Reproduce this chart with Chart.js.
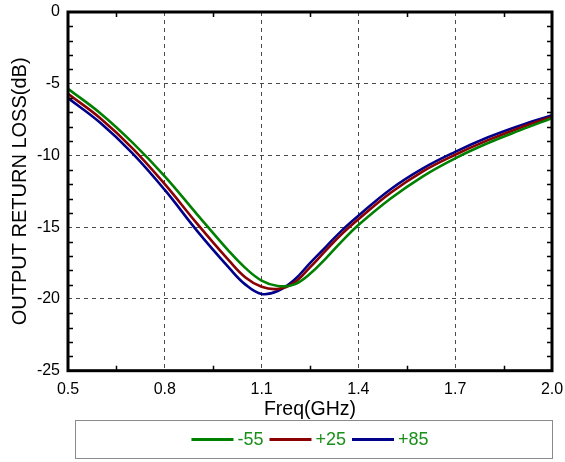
<!DOCTYPE html>
<html>
<head>
<meta charset="utf-8">
<script src="https://cdn.jsdelivr.net/npm/chart.js@4/dist/chart.umd.min.js"></script>
<style>
  html, body { margin: 0; padding: 0; background: #fff; }
  #wrap { width: 565px; height: 462px; position: relative; }
</style>
</head>
<body>
<div id="wrap"><canvas id="c" width="565" height="462"></canvas></div>
<script>
// ---- data ----
const freqGHz = [0.5, 0.6, 0.7, 0.8, 0.9, 1.0, 1.05, 1.1, 1.15, 1.2, 1.25, 1.3, 1.35, 1.4, 1.5, 1.6, 1.7, 1.8, 1.9, 2.0];
const lossM55 = [-5.35, -7.05, -9.1, -11.45, -14.1, -16.7, -17.85, -18.72, -19.1, -19.0, -18.25, -17.15, -15.95, -14.85, -13.0, -11.45, -10.2, -9.15, -8.25, -7.4];
const lossP25 = [-5.7, -7.4, -9.5, -12.0, -14.75, -17.35, -18.5, -19.15, -19.3, -18.88, -17.8, -16.6, -15.45, -14.45, -12.6, -11.1, -9.95, -8.95, -8.08, -7.3];
const lossP85 = [-6.0, -7.72, -9.85, -12.4, -15.25, -17.85, -19.0, -19.65, -19.45, -18.7, -17.5, -16.35, -15.2, -14.2, -12.35, -10.9, -9.75, -8.75, -7.92, -7.2];
const seriesLabels = ['-55', '+25', '+85'];
const seriesColors = ['#008000', '#8b0000', '#00008b'];
const xTickValues = [0.5, 0.8, 1.1, 1.4, 1.7, 2.0];
const yTickValues = [-25, -20, -15, -10, -5, 0];
const xTitle = 'Freq(GHz)';
const yTitle = 'OUTPUT RETURN LOSS(dB)';

const FONT = '"Liberation Sans", Arial, sans-serif';

function pts(vals) { return freqGHz.map((f, i) => ({ x: f, y: vals[i] })); }
const allVals = [lossM55, lossP25, lossP85];

const framePlugin = {
  id: 'frame',
  afterDraw(chart) {
    const { ctx, chartArea: a, scales: { x, y } } = chart;
    ctx.save();
    ctx.strokeStyle = '#000';
    ctx.lineWidth = 1.5;
    ctx.beginPath();
    for (let v = -24; v < 0; v++) {
      if (v % 5 === 0) continue;
      const py = Math.round(y.getPixelForValue(v)) + 0.5;
      ctx.moveTo(a.left, py); ctx.lineTo(a.left + 5, py);
      ctx.moveTo(a.right - 5, py); ctx.lineTo(a.right, py);
    }
    for (let i = 0; i < xTickValues.length - 1; i++) {
      const f = (xTickValues[i] + xTickValues[i + 1]) / 2;
      const px = Math.round(x.getPixelForValue(f)) + 0.5;
      ctx.moveTo(px, a.bottom); ctx.lineTo(px, a.bottom - 5);
      ctx.moveTo(px, a.top); ctx.lineTo(px, a.top + 5);
    }
    ctx.stroke();
    ctx.lineWidth = 3;
    ctx.strokeRect(a.left, a.top, a.right - a.left, a.bottom - a.top);

    // legend box
    ctx.lineWidth = 1;
    ctx.strokeStyle = '#8a8a8a';
    ctx.strokeRect(75.5, 420.5, 477, 38);
    ctx.font = '18px ' + FONT;
    ctx.textBaseline = 'middle';
    const lineLen = 42, gap1 = 4, gap2 = 6;
    let total = 0;
    const widths = seriesLabels.map(t => ctx.measureText(t).width);
    widths.forEach(w => total += lineLen + gap1 + w);
    total += gap2 * (seriesLabels.length - 1);
    let cx = 310 - total / 2;
    const ly = 439.5;
    chart.data.datasets.forEach((ds, i) => {
      ctx.strokeStyle = ds.borderColor;
      ctx.lineWidth = 3;
      ctx.beginPath();
      ctx.moveTo(cx, ly); ctx.lineTo(cx + lineLen, ly);
      ctx.stroke();
      cx += lineLen + gap1;
      ctx.fillStyle = '#1a901a';
      ctx.fillText(ds.label, cx, ly + 1);
      cx += widths[i] + gap2;
    });
    ctx.restore();
  }
};

new Chart(document.getElementById('c'), {
  type: 'line',
  data: {
    datasets: allVals.map((v, i) => ({
      label: seriesLabels[i],
      data: pts(v),
      borderColor: seriesColors[i],
      backgroundColor: seriesColors[i],
      borderWidth: 2.6,
      pointRadius: 0,
      tension: 0.4,
      fill: false
    }))
  },
  options: {
    responsive: false,
    animation: false,
    events: [],
    layout: { padding: { left: 0, right: 13, top: 12, bottom: 41 } },
    plugins: { legend: { display: false }, tooltip: { enabled: false } },
    scales: {
      x: {
        type: 'linear',
        min: 0.5, max: 2.0,
        afterBuildTicks(s) { s.ticks = xTickValues.map(v => ({ value: v })); },
        afterFit(s) { s.height = 50.3; s.paddingLeft = 0; s.paddingRight = 0; },
        border: { display: false, dash: [4, 4] },
        grid: {
          drawTicks: false,
          color: '#4a4a4a',
          lineWidth: 1
        },
        ticks: {
          padding: 9,
          color: '#000',
          font: { family: FONT, size: 16 },
          callback: v => Number(v).toFixed(1)
        },
        title: {
          display: true, text: xTitle, color: '#000',
          font: { family: FONT, size: 19.5, lineHeight: 1.2 },
          padding: { top: 0, bottom: 0 }
        }
      },
      y: {
        min: -25, max: 0,
        afterBuildTicks(s) { s.ticks = yTickValues.map(v => ({ value: v })); },
        afterFit(s) { s.width = 68; s.paddingTop = 0; s.paddingBottom = 0; },
        border: { display: false, dash: [4, 4] },
        grid: {
          drawTicks: false,
          color: '#4a4a4a',
          lineWidth: 1
        },
        ticks: {
          padding: 8,
          color: '#000',
          font: { family: FONT, size: 16 }
        },
        title: {
          display: true, text: yTitle, color: '#000',
          font: { family: FONT, size: 20, lineHeight: 1.2 },
          padding: { top: 8, bottom: 0 }
        }
      }
    }
  },
  plugins: [framePlugin]
});
</script>
</body>
</html>
